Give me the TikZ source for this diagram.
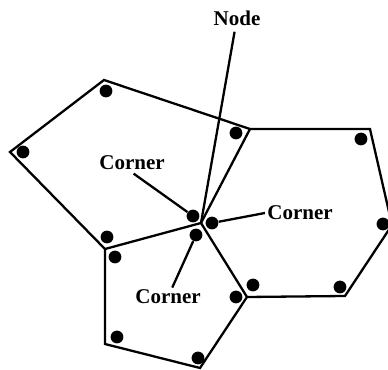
\documentclass[tikz,border=0pt]{standalone}
\usepackage{fontspec}
\setmainfont{Liberation Serif}
\tikzset{
	elem/.style={line width=1.15pt,line join=miter},
	leader/.style={line width=1.15pt},
	corner/.style={circle,fill=black,inner sep=0pt,minimum size=6.4pt},
	tag/.style={font=\fontsize{10.5}{12}\selectfont\bfseries,inner sep=1pt}
}
\begin{document}
\begin{tikzpicture}[x=0.5pt,y=-0.5pt]
	\useasboundingbox (0,0) rectangle (388,370);
	% shared mesh point
	\coordinate (mid) at (201,223);
	% left pentagon
	\coordinate (a1) at (104,80);
	\coordinate (a2) at (10,152);
	\coordinate (a3) at (105,249);
	\coordinate (a4) at (250,129);
	\draw[elem] (a1) -- (a2) -- (a3) -- (mid) -- (a4) -- cycle;
	% bottom pentagon
	\coordinate (b1) at (105,344);
	\coordinate (b2) at (200,368);
	\coordinate (b3) at (247,297);
	\draw[elem] (a3) -- (b1) -- (b2) -- (b3) -- (mid);
	% hexagon
	\coordinate (c1) at (370,129);
	\coordinate (c2) at (392,225);
	\coordinate (c3) at (345,296);
	\draw[elem] (a4) -- (c1) -- (c2) -- (c3) -- (b3);
	% corner dots
	\node[corner] (d1) at (106,91) {};
	\node[corner] (d2) at (23,152) {};
	\node[corner] (d3) at (107,237) {};
	\node[corner] (d4) at (193,216) {};
	\node[corner] (d5) at (236,133) {};
	\node[corner] (d6) at (115,257) {};
	\node[corner] (d7) at (117,337) {};
	\node[corner] (d8) at (198,358) {};
	\node[corner] (d9) at (236,297) {};
	\node[corner] (d10) at (196,235) {};
	\node[corner] (d11) at (212,223) {};
	\node[corner] (d12) at (361,139) {};
	\node[corner] (d13) at (383,224) {};
	\node[corner] (d14) at (340,287) {};
	\node[corner] (d15) at (253,285) {};
	% labels
	\node[tag] (nodetag) at (237,18) {Node};
	\node[tag] (tagleft) at (132,163) {Corner};
	\node[tag] (tagright) at (300,213) {Corner};
	\node[tag] (tagdown) at (168,297) {Corner};
	\draw[leader,shorten <=2pt] (nodetag) -- (mid);
	\draw[leader,shorten <=1pt] (tagleft.south) -- (d4);
	\draw[leader] (tagright.west) -- (d11);
	\draw[leader] (tagdown) -- (d10);
\end{tikzpicture}
\end{document}
